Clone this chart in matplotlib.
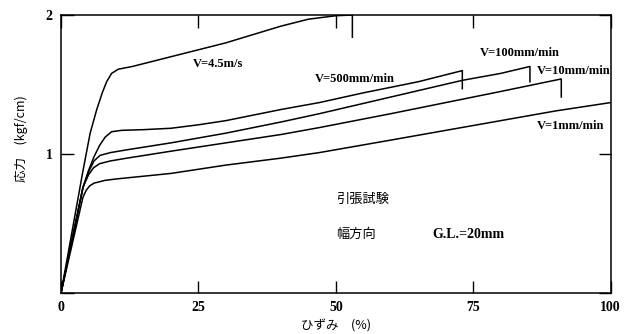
import numpy as np
import matplotlib
matplotlib.use("Agg")
from matplotlib import pyplot as plt

# strain (%) / stress (kgf/cm)
x_45 = [0, 4, 5.3, 6.5, 7.5, 8.3, 9.2, 10.4, 13, 16, 20, 25, 30, 35, 40, 45, 50, 53, 53]
y_45 = [0, 0.88, 1.15, 1.32, 1.44, 1.52, 1.58, 1.61, 1.63, 1.66, 1.70, 1.75, 1.80, 1.86, 1.92, 1.97, 1.995, 2.0, 1.84]

x_500 = [0, 4, 5, 6, 7, 8, 9.2, 11, 15, 20, 25, 30, 35, 40, 47, 55, 60, 65, 70, 73, 73]
y_500 = [0, 0.76, 0.88, 0.98, 1.06, 1.12, 1.16, 1.17, 1.175, 1.185, 1.21, 1.24, 1.28, 1.32, 1.37, 1.44, 1.48, 1.52, 1.57, 1.60, 1.47]

x_100 = [0, 4, 5, 6, 7.1, 9, 12, 20, 30, 40, 47, 60, 73, 80, 85.3, 85.3]
y_100 = [0, 0.76, 0.87, 0.95, 0.99, 1.01, 1.03, 1.08, 1.15, 1.23, 1.29, 1.41, 1.53, 1.58, 1.63, 1.52]

x_10 = [0, 4, 5, 5.9, 7, 9, 12, 20, 30, 40, 47, 60, 70, 80, 91, 91]
y_10 = [0, 0.76, 0.85, 0.90, 0.93, 0.95, 0.97, 1.02, 1.08, 1.14, 1.19, 1.29, 1.37, 1.45, 1.54, 1.41]

x_1 = [0, 4, 4.6, 5.2, 6, 8, 10, 15, 20, 30, 40, 47, 60, 70, 80, 90, 100]
y_1 = [0, 0.69, 0.74, 0.77, 0.79, 0.81, 0.82, 0.84, 0.86, 0.92, 0.97, 1.01, 1.10, 1.17, 1.24, 1.31, 1.37]

xticks = [0, 25, 50, 75, 100]
yticks = [0, 1, 2]
ytick_labels = ["", "1", "2"]

curve_labels = ["V=4.5m/s", "V=500mm/min", "V=100mm/min", "V=10mm/min", "V=1mm/min"]
label_pos = [(24, 1.65), (46.2, 1.54), (76.2, 1.73), (86.5, 1.60), (86.5, 1.20)]

serif = ["Liberation Serif", "DejaVu Serif"]
jp = ["Noto Sans CJK JP", "DejaVu Sans"]

fig = plt.figure(figsize=(6.29, 3.34), dpi=100)
ax = fig.add_axes([0.097, 0.123, 0.874, 0.832])

for xs, ys in [(x_45, y_45), (x_500, y_500), (x_100, y_100), (x_10, y_10), (x_1, y_1)]:
    ax.plot(xs, ys, color="black", lw=1.1)

for txt, (tx, ty) in zip(curve_labels, label_pos):
    ax.text(tx, ty, txt, fontsize=9, family=serif, fontweight="bold", va="center", ha="left")

ax.text(50, 0.67, "引張試験", fontsize=9.5, family=jp, va="center", ha="left")
ax.text(50, 0.42, "幅方向", fontsize=9.5, family=jp, va="center", ha="left")
ax.text(67.6, 0.42, "G.L.=20mm", fontsize=10, family=serif, fontweight="bold", va="center", ha="left")

ax.set_xlim(0, 100)
ax.set_ylim(0, 2)
ax.set_xticks(xticks)
ax.set_yticks(yticks)
ax.set_yticklabels(ytick_labels)
ax.tick_params(direction="in", length=9, width=1, top=True, right=True, labelsize=10, pad=6)
for lab in ax.get_xticklabels() + ax.get_yticklabels():
    lab.set_family(serif)
    lab.set_fontweight("bold")
for s in ax.spines.values():
    s.set_linewidth(1.1)

ax.set_xlabel("ひずみ　(%)", fontsize=9, family=jp, labelpad=4)
ax.set_ylabel("応力　(kgf/cm)", fontsize=9, family=jp)
ax.yaxis.set_label_coords(-0.06, 0.555)

fig.savefig("out.png", dpi=100)
